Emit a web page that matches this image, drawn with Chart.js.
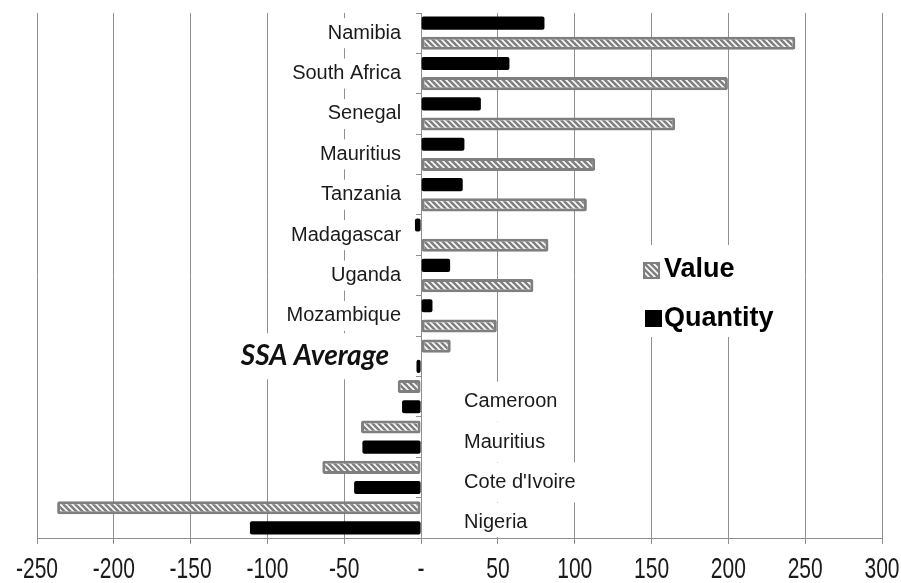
<!DOCTYPE html>
<html>
<head>
<meta charset="utf-8">
<script src="https://cdn.jsdelivr.net/npm/chart.js@4.4.1/dist/chart.umd.min.js"></script>
<style>
  html, body { margin: 0; padding: 0; background: #fff; }
  #wrap { width: 901px; height: 583px; }
</style>
</head>
<body>
<div id="wrap"><canvas id="chart" width="901" height="583"></canvas></div>
<script>
const countries = ['Namibia', 'South Africa', 'Senegal', 'Mauritius', 'Tanzania', 'Madagascar', 'Uganda', 'Mozambique',
  'SSA Average', 'Cameroon', 'Mauritius', "Cote d'Ivoire", 'Nigeria'];
const valueGrowth = [243.6, 199.7, 165.4, 113.3, 107.9, 82.9, 73.1, 49.3, 19.3, -15.2, -39.1, -64.3, -236.9];
const quantityGrowth = [80.3, 57.5, 38.9, 28.2, 27.1, -4, 18.9, 7.4, -3, -12.4, -38.2, -43.6, -111.4];
const xTicks = [-250, -200, -150, -100, -50, 0, 50, 100, 150, 200, 250, 300];
// from SSA Average down, the value bar sits above the quantity bar
const splitAt = 8;

const GRID = '#8f8f8f';
const HATCH_GRAY = '#7f7f7f';

function makeHatch() {
  const c = document.createElement('canvas');
  c.width = 6; c.height = 6;
  const g = c.getContext('2d');
  g.fillStyle = HATCH_GRAY;
  g.fillRect(0, 0, 6, 6);
  g.strokeStyle = '#ffffff';
  g.lineWidth = 1.6;
  g.beginPath();
  g.moveTo(0, 0); g.lineTo(6, 6);
  g.moveTo(-1, 5); g.lineTo(1, 7);
  g.moveTo(5, -1); g.lineTo(7, 1);
  g.stroke();
  return g.createPattern(c, 'repeat');
}
const hatch = makeHatch();

const upper = (arr) => arr.map((v, i) => (i < splitAt ? v : null));
const lower = (arr) => arr.map((v, i) => (i >= splitAt ? v : null));

const valueStyle = { backgroundColor: hatch, borderColor: HATCH_GRAY, borderWidth: 3, borderRadius: 2, borderSkipped: false };
const qtyStyle = { backgroundColor: '#000000', borderWidth: 0, borderRadius: 2, borderSkipped: false };

// labels, white label boxes, tick labels and the legend
const overlay = {
  id: 'overlay',
  beforeDatasetsDraw(chart) {
    const { ctx, chartArea } = chart;
    const x = chart.scales.x, y = chart.scales.y;
    const zero = x.getPixelForValue(0);
    ctx.save();
    countries.forEach((name, i) => {
      const cy = y.getPixelForValue(i);
      let tx, align, font, color = '#1a1a1a', half, ty = cy;
      if (i < splitAt) {
        tx = zero - 20; align = 'right'; font = '20px "Liberation Sans", Arial, sans-serif'; half = 15;
      } else if (i === splitAt) {
        tx = zero - 32; align = 'right'; font = 'italic bold 28px Lato, "Open Sans", sans-serif'; half = 23; color = '#111';
      } else {
        tx = zero + 43; align = 'left'; font = '20px "Liberation Sans", Arial, sans-serif'; half = 20; ty = cy + 5;
      }
      ctx.font = font;
      const w = ctx.measureText(name).width;
      const left = align === 'right' ? tx - w - 8 : tx - 8;
      const top = Math.max(chartArea.top, ty - half);
      const bottom = Math.min(chartArea.bottom - 1, ty + half);
      ctx.fillStyle = '#ffffff';
      ctx.fillRect(left, top, w + 16, bottom - top);
      ctx.fillStyle = color;
      ctx.textAlign = align;
      ctx.textBaseline = 'middle';
      ctx.fillText(name, tx, ty);
    });

    // x tick labels, taller than wide like the original
    ctx.font = '21px "Liberation Sans", Arial, sans-serif';
    ctx.fillStyle = '#1a1a1a';
    ctx.textAlign = 'center';
    ctx.textBaseline = 'middle';
    const sy = 1.4;
    const ly = chartArea.bottom + 32;
    xTicks.forEach(v => {
      ctx.save();
      ctx.translate(x.getPixelForValue(v), ly);
      ctx.scale(1, sy);
      ctx.fillText(v === 0 ? '-' : String(v), 0, 0);
      ctx.restore();
    });
    ctx.restore();
  },
  afterDatasetsDraw(chart) {
    const { ctx } = chart;
    ctx.save();
    ctx.fillStyle = '#ffffff';
    ctx.fillRect(636, 245, 150, 92);
    ctx.fillStyle = hatch;
    ctx.fillRect(643, 262, 17, 17);
    ctx.strokeStyle = HATCH_GRAY;
    ctx.lineWidth = 2;
    ctx.strokeRect(644, 263, 15, 15);
    ctx.fillStyle = '#000';
    ctx.fillRect(645, 310, 17, 17);
    ctx.font = 'bold 27px "Liberation Sans", Arial, sans-serif';
    ctx.textAlign = 'left';
    ctx.textBaseline = 'middle';
    ctx.fillText('Value', 664, 270);
    ctx.fillText('Quantity', 664, 319);
    ctx.restore();
  }
};

new Chart(document.getElementById('chart'), {
  type: 'bar',
  data: {
    labels: countries,
    datasets: [
      { label: 'Quantity', data: upper(quantityGrowth), ...qtyStyle },
      { label: 'Value', data: upper(valueGrowth), ...valueStyle },
      { label: 'Value ', data: lower(valueGrowth), ...valueStyle },
      { label: 'Quantity ', data: lower(quantityGrowth), ...qtyStyle },
    ],
  },
  options: {
    indexAxis: 'y',
    responsive: false,
    animation: false,
    skipNull: true,
    categoryPercentage: 1,
    barPercentage: 0.65,
    layout: { padding: { left: 37, right: 19, top: 13, bottom: 39 } },
    plugins: { legend: { display: false }, tooltip: { enabled: false } },
    scales: {
      x: {
        min: -250,
        max: 300,
        afterBuildTicks: (axis) => { axis.ticks = xTicks.map(v => ({ value: v })); },
        grid: { color: GRID, lineWidth: 1, tickLength: 6, tickColor: GRID },
        border: { display: true, color: GRID, width: 1 },
        ticks: { display: false },
      },
      y: {
        position: { x: 0 },
        offset: true,
        grid: { drawOnChartArea: false, offset: true, tickLength: 5, color: GRID },
        border: { display: true, color: GRID, width: 1 },
        ticks: { display: false },
      },
    },
  },
  plugins: [overlay],
});
</script>
</body>
</html>
